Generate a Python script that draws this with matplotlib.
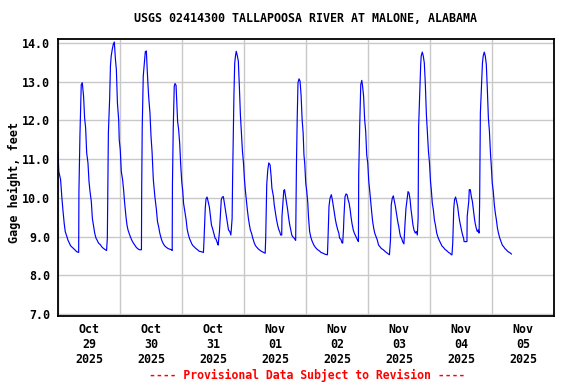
import matplotlib
matplotlib.use("Agg")
import matplotlib.pyplot as plt
import matplotlib.dates as mdates
from matplotlib.ticker import FormatStrFormatter, NullFormatter
import pandas as pd

plt.rcParams['font.family'] = ['DejaVu Sans Mono']
plt.rcParams['font.weight'] = 'bold'

station = "USGS 02414300 TALLAPOOSA RIVER AT MALONE, ALABAMA"
footer = "---- Provisional Data Subject to Revision ----"
start = "2025-10-29 00:00"

# hours since start
hours = [
    0.0, 0.3, 1.0, 1.5, 1.9, 2.4, 2.8, 3.4, 3.9, 4.4, 4.9, 5.7, 6.5, 7.2, 8.0,
    8.1, 8.5, 9.0, 9.4, 9.9, 10.3, 10.7, 11.1, 11.6, 12.0, 12.4, 12.9, 13.3, 13.8, 14.2, 14.7, 15.2, 15.7, 16.4, 17.0, 17.5, 18.3, 18.8,
    19.1, 19.5, 20.0, 20.3, 20.6, 21.0, 21.4, 21.8, 22.2, 22.6, 23.0, 23.5, 23.7, 24.1, 24.5, 25.0, 25.4, 25.8, 26.3, 26.7, 27.1, 27.6, 28.1, 28.6, 29.2, 29.7, 30.2, 30.8, 31.5, 32.3,
    32.4, 32.6, 33.0, 33.4, 33.8, 34.2, 34.6, 35.1, 35.6, 36.0, 36.4, 36.9, 37.5, 38.1, 38.5, 39.0, 39.4, 39.9, 40.3, 40.8, 41.3, 41.8, 42.6, 43.9, 44.2,
    44.3, 44.6, 45.0, 45.3, 45.7, 45.9, 46.3, 46.7, 47.1, 47.5, 47.9, 48.3, 48.6, 49.2, 49.6, 50.0, 50.5, 50.9, 51.4, 51.8, 52.3, 52.8, 53.4, 54.0, 54.7, 55.4, 56.3,
    56.5, 57.0, 57.3, 57.7, 58.1, 58.6, 59.0, 59.4, 59.9, 60.3, 60.8, 61.2, 61.7, 62.0,
    62.5, 62.8, 63.2, 63.6, 64.0, 64.3, 64.7, 65.1, 65.6, 66.0, 66.5, 66.9,
    67.1, 67.4, 67.6, 67.9, 68.1, 68.4, 68.7, 69.0, 69.4, 69.8, 70.2, 70.6, 71.0, 71.4, 71.8, 72.2, 72.5, 72.9, 73.3, 73.7, 74.1, 74.5, 74.9, 75.4,
    76.0, 76.5, 77.0, 77.7, 78.3, 79.0, 79.6, 80.2,
    80.4, 80.8, 81.2, 81.6, 82.1, 82.5, 82.8, 83.4, 83.7, 84.1, 84.5, 85.0, 85.4, 85.8, 86.2, 86.6,
    86.7, 87.1, 87.4, 87.7, 88.1, 88.5, 88.9, 89.3, 89.7, 90.1, 90.5, 90.8, 91.4, 92.0,
    92.3, 92.6, 92.9, 93.3, 93.7, 94.1, 94.5, 94.9, 95.2, 95.5, 95.9, 96.3, 96.7, 97.0, 97.4, 97.8, 98.2, 98.7, 99.2, 99.9, 100.5, 101.2, 101.8, 102.6, 103.5, 104.3,
    104.5, 104.9, 105.3, 105.8, 106.2, 106.6, 107.0, 107.4, 107.8, 108.3, 108.7, 109.0, 109.5, 109.9, 110.2,
    110.5, 110.7, 111.1, 111.5, 111.9, 112.3, 112.7, 113.1, 113.4, 113.8, 114.3, 114.7, 115.2, 115.6, 116.0, 116.3,
    116.4, 116.8, 117.2, 117.6, 117.9, 118.3, 118.7, 119.1, 119.5, 119.9, 120.3, 120.7, 121.1, 121.4, 121.8, 122.2, 122.6, 123.1, 123.6, 124.1, 124.6, 125.2, 125.9, 126.7, 127.5, 128.3,
    128.7, 129.0, 129.4, 129.8, 130.2, 130.6, 131.1, 131.5, 131.9, 132.3, 132.6, 133.0, 133.4, 133.9,
    134.3, 134.7, 135.1, 135.5, 135.9, 136.3, 136.6, 137.0, 137.4, 137.8, 138.3, 138.7, 139.1,
    139.4, 139.6, 140.0, 140.4, 140.6, 141.0, 141.4, 141.8, 142.2, 142.6, 143.0, 143.4, 143.8, 144.2, 144.5, 144.9, 145.3, 145.7, 146.1, 146.6, 147.1, 147.6, 148.1, 148.6, 149.2, 149.8, 150.4, 151.2, 151.7, 152.3, 152.5,
    152.8, 153.2, 153.5, 153.9, 154.3, 154.7, 155.1, 155.5, 155.9, 156.3, 156.7, 157.0, 157.2, 157.7, 158.3,
    158.4, 159.0, 159.2, 159.6, 160.0, 160.4, 160.8, 161.2, 161.5, 161.9, 162.3, 162.7, 163.0,
    163.2, 163.5, 163.9, 164.3, 164.6, 165.0, 165.4, 165.8, 166.2, 166.6, 167.0, 167.4, 167.7, 168.1, 168.5, 168.9, 169.3, 169.7, 170.1, 170.5, 171.0, 171.5, 172.0, 172.5, 173.0, 173.5, 174.2, 174.8, 175.5,
]

gage_ft = [
    11.17, 10.68, 10.47, 10.0, 9.69, 9.34, 9.13, 9.0, 8.9, 8.83, 8.76, 8.71, 8.66, 8.61, 8.59,
    10.16, 11.63, 12.92, 12.97, 12.62, 12.06, 11.8, 11.16, 10.9, 10.42, 10.16, 9.9, 9.47, 9.26, 9.09, 8.96, 8.9, 8.83, 8.79, 8.73, 8.7, 8.66, 8.64,
    8.96, 11.67, 12.58, 13.4, 13.66, 13.83, 13.96, 14.02, 13.6, 13.3, 12.45, 12.0, 11.5, 11.24, 10.68, 10.47, 10.2, 9.86, 9.52, 9.3, 9.17, 9.07, 8.98, 8.9, 8.83, 8.78, 8.73, 8.69, 8.66, 8.66,
    10.25, 11.8, 13.14, 13.47, 13.77, 13.79, 13.21, 12.6, 12.19, 11.59, 11.2, 10.47, 10.03, 9.69, 9.39, 9.24, 9.09, 8.96, 8.88, 8.81, 8.76, 8.73, 8.69, 8.66, 8.64,
    10.34, 11.76, 12.88, 12.95, 12.9, 12.58, 11.97, 11.76, 11.41, 10.85, 10.42, 10.16, 9.86, 9.6, 9.43, 9.19, 9.04, 8.95, 8.87, 8.81, 8.76, 8.73, 8.69, 8.66, 8.62, 8.61, 8.59,
    8.87, 9.73, 9.97, 10.02, 9.91, 9.76, 9.52, 9.3, 9.19, 9.09, 8.96, 8.93, 8.83, 8.78,
    9.13, 9.47, 9.95, 10.02, 10.03, 9.91, 9.73, 9.56, 9.34, 9.17, 9.13, 9.04,
    9.19, 9.47, 10.55, 11.89, 12.64, 13.47, 13.66, 13.78, 13.67, 13.53, 12.88, 12.15, 11.67, 11.2, 10.9, 10.45, 10.21, 9.95, 9.69, 9.47, 9.3, 9.16, 9.09, 8.96,
    8.83, 8.76, 8.72, 8.67, 8.64, 8.61, 8.59, 8.57,
    8.96, 10.34, 10.72, 10.9, 10.85, 10.55, 10.25, 10.03, 9.82, 9.65, 9.47, 9.3, 9.19, 9.13, 9.04, 9.04,
    9.52, 9.91, 10.19, 10.21, 10.03, 9.86, 9.69, 9.47, 9.3, 9.17, 9.04, 9.0, 8.96, 8.9,
    10.85, 12.06, 12.97, 13.07, 13.01, 12.64, 12.02, 11.67, 11.11, 10.9, 10.38, 10.16, 9.86, 9.47, 9.13, 9.0, 8.91, 8.83, 8.76, 8.7, 8.66, 8.63, 8.59, 8.57, 8.54, 8.53,
    8.91, 9.78, 9.99, 10.08, 9.95, 9.78, 9.6, 9.43, 9.3, 9.17, 9.09, 8.96, 8.93, 8.84, 8.83,
    9.17, 9.52, 10.03, 10.1, 10.08, 9.95, 9.86, 9.69, 9.52, 9.34, 9.17, 9.09, 9.02, 8.96, 8.9, 8.87,
    10.59, 11.89, 12.92, 13.03, 12.88, 12.62, 12.02, 11.72, 11.11, 10.9, 10.42, 10.16, 9.86, 9.65, 9.39, 9.22, 9.09, 9.0, 8.91, 8.78, 8.74, 8.69, 8.66, 8.61, 8.57, 8.53,
    8.91, 9.82, 9.99, 10.05, 9.91, 9.78, 9.56, 9.39, 9.26, 9.09, 9.0, 8.96, 8.87, 8.81,
    9.3, 9.73, 9.95, 10.16, 10.12, 9.95, 9.73, 9.52, 9.3, 9.17, 9.09, 9.13, 9.04,
    9.47, 11.84, 12.62, 13.44, 13.66, 13.76, 13.66, 13.48, 12.92, 12.15, 11.67, 11.2, 10.9, 10.42, 10.21, 9.86, 9.69, 9.43, 9.3, 9.09, 8.98, 8.9, 8.83, 8.76, 8.72, 8.67, 8.64, 8.59, 8.57, 8.53, 8.53,
    8.83, 9.73, 9.95, 10.02, 9.91, 9.78, 9.56, 9.39, 9.26, 9.13, 9.02, 8.96, 8.87, 8.87, 8.87,
    9.52, 9.91, 10.21, 10.21, 10.03, 9.91, 9.69, 9.47, 9.34, 9.22, 9.13, 9.17, 9.09,
    9.82, 12.19, 12.84, 13.48, 13.66, 13.76, 13.66, 13.44, 12.79, 12.06, 11.72, 11.16, 10.85, 10.38, 10.16, 9.82, 9.6, 9.43, 9.22, 9.09, 8.96, 8.87, 8.78, 8.74, 8.69, 8.66, 8.61, 8.59, 8.55,
]

assert len(hours) == len(gage_ft), (len(hours), len(gage_ft))

times = pd.Timestamp(start) + pd.to_timedelta(hours, unit="h")

fig = plt.figure(figsize=(5.76, 3.84), dpi=100)
ax = fig.add_axes([58/576, 1 - 316/384, 496/576, 276.7/384])

ax.plot(times, gage_ft, color="#0000ff", lw=0.85)

ax.set_xlim(pd.Timestamp("2025-10-29"), pd.Timestamp("2025-11-06"))
ax.set_ylim(6.95, 14.09)
ax.set_yticks(range(7, 15))
ax.yaxis.set_major_formatter(FormatStrFormatter('%.1f'))

ax.xaxis.set_major_locator(mdates.DayLocator())
ax.xaxis.set_major_formatter(NullFormatter())
ax.xaxis.set_minor_locator(mdates.HourLocator(byhour=[12]))
ax.xaxis.set_minor_formatter(mdates.DateFormatter('%b\n%d\n%Y'))

ax.tick_params(which='both', length=0, labelsize=8.4)
ax.tick_params(axis='y', pad=5.5)
ax.tick_params(axis='x', which='minor', pad=5)
ax.grid(True, which='major', color='#c8c8c8', lw=1.0)
ax.set_axisbelow(True)
for s in ax.spines.values():
    s.set_linewidth(1.3)

fig.text(306/576, 1 - 19/384, station, ha='center', va='center', fontsize=8.4, fontweight='bold')
fig.text(14/576, 1 - 182/384, "Gage height, feet", rotation=90, ha='center', va='center', fontsize=8.5, fontweight='bold')
fig.text(307/576, 1 - 375/384, footer, ha='center', va='center', fontsize=8.3, fontweight='bold', color='#ff0000')

fig.savefig("out.png", dpi=100)
